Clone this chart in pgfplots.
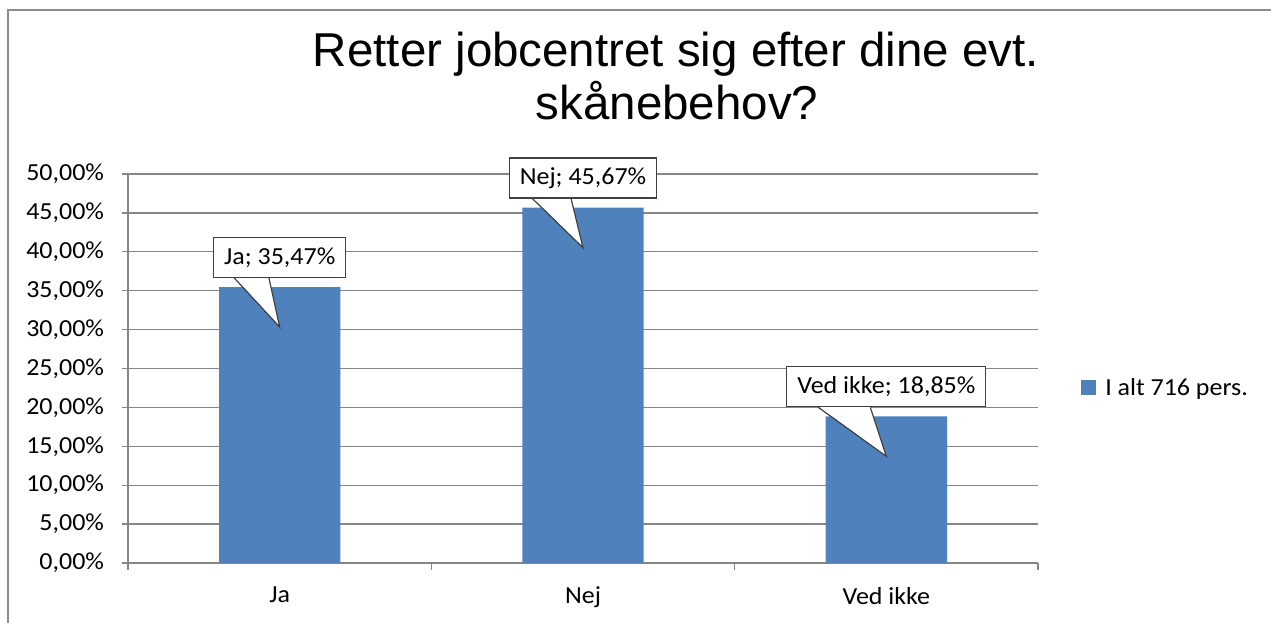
\documentclass[border=0pt]{standalone}
\usepackage{fontspec}
\setmainfont{Carlito}[FakeStretch=1.06]
\newfontfamily\titlefont{Liberation Sans}
\usepackage{pgfplots}
\pgfplotsset{compat=1.18}
\usepackage{pgfplotstable}
\usetikzlibrary{calc}
\definecolor{barblue}{HTML}{4F81BD}
\definecolor{gridgray}{HTML}{868686}
\definecolor{framegray}{HTML}{8C8C8C}
\definecolor{calloutgray}{HTML}{404040}

\pgfplotstableread{
x y
0 35.47
1 45.67
2 18.85
}\datatable

\tikzset{
  callout/.style={
    draw=calloutgray, fill=white, line width=1.2pt,
    inner xsep=10.5pt, inner ysep=0pt, minimum height=40pt,
    font=\fontsize{24.5}{28}\selectfont,
    anchor=south, yshift=9pt,
    append after command={\pgfextra{
      \path[fill=white, draw=none] ($(\tikzlastnode.south west)!0.16!(\tikzlastnode.south east)+(0pt,1.2pt)$)
        -- ($(\tikzlastnode.south)+(0pt,-49pt)$)
        -- ($(\tikzlastnode.south west)!0.42!(\tikzlastnode.south east)+(0pt,1.2pt)$) -- cycle;
      \path[draw=calloutgray, fill=none, line width=1.2pt, line join=miter]
        ($(\tikzlastnode.south west)!0.16!(\tikzlastnode.south east)$)
        -- ($(\tikzlastnode.south)+(0pt,-49pt)$)
        -- ($(\tikzlastnode.south west)!0.42!(\tikzlastnode.south east)$);
    }}
  }
}

\begin{document}
\begin{tikzpicture}
\useasboundingbox (0pt,0pt) rectangle (1271pt,622pt);
\draw[framegray, line width=1.3pt] (8pt,-5pt) -- (8pt,612pt) -- (1280pt,612pt);
\node[font=\titlefont\fontsize{47.5}{53.5}\selectfont, anchor=base, inner sep=0pt] at (676pt,555.3pt) {Retter jobcentret sig efter dine evt.};
\node[font=\titlefont\fontsize{47.5}{53.5}\selectfont, anchor=base, inner sep=0pt] at (677pt,502pt) {skånebehov?};
\begin{axis}[
  at={(128pt,59pt)}, anchor=south west,
  scale only axis, width=910pt, height=389pt,
  ybar, bar width=0.4,
  xmin=-0.5, xmax=2.5, ymin=0, ymax=50,
  axis x line*=bottom, axis y line*=left,
  axis line style={-, gridgray, line width=1.3pt},
  ymajorgrids, major grid style={gridgray, line width=1.3pt},
  tick style={gridgray, line width=1.3pt}, tick align=outside, major tick length=6.5pt,
  xtick={-0.5,0.5,1.5,2.5}, x tick label as interval,
  xticklabels={Ja,Nej,Ved ikke},
  ytick={0,5,...,50},
  yticklabel={\pgfmathprintnumber[fixed,fixed zerofill,precision=2,use comma]{\tick}\%},
  /pgf/number format/assume math mode=true,
  ticklabel style={font=\fontsize{24.5}{28}\selectfont, text=black},
  yticklabel style={xshift=-14pt},
  xticklabel style={yshift=-14pt},
  point meta=y,
  nodes near coords={\ifcase\coordindex Ja\or Nej\or Ved ikke\fi; \pgfmathprintnumber[fixed,fixed zerofill,precision=2,use comma]{\pgfplotspointmeta}\%},
  every node near coord/.append style={callout},
  legend style={at={(1.0473,0.45)}, anchor=west, draw=none, fill=none,
    font=\fontsize{24.5}{28}\selectfont, inner sep=0pt,
    /tikz/every odd column/.append style={column sep=7pt}},
  legend cell align=left,
]
\addplot[fill=barblue, draw=none,
  legend image code/.code={\fill[barblue] (0pt,-7.5pt) rectangle (15pt,7.5pt);}]
  table[x=x, y=y]{\datatable};
\addlegendentry{I alt 716 pers.}
\end{axis}
\end{tikzpicture}
\end{document}
